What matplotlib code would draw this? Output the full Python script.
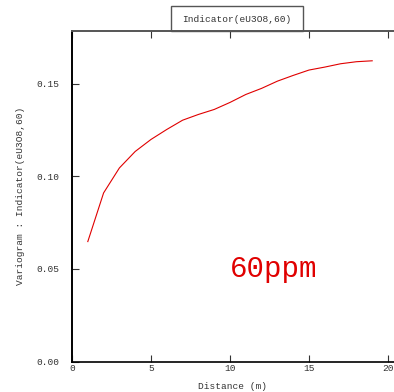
import matplotlib
matplotlib.use("Agg")
import matplotlib.pyplot as plt
from matplotlib.patches import Rectangle

# variogram values
lag = [1, 2, 3, 4, 5, 6, 7, 8, 9, 10, 11, 12, 13, 14, 15, 16, 17, 18, 19]
gamma = [0.0648, 0.0911, 0.1046, 0.1135, 0.1200, 0.1254, 0.1304, 0.1335, 0.1362,
         0.1400, 0.1443, 0.1476, 0.1515, 0.1546, 0.1575, 0.1591, 0.1609, 0.1620, 0.1625]
xticks = [0, 5, 10, 15, 20]
yticks = [0.00, 0.05, 0.10, 0.15]
title = "Indicator(eU3O8,60)"
note = "60ppm"

plt.rcParams['font.family'] = ['Liberation Mono', 'DejaVu Sans Mono']

fig = plt.figure(figsize=(3.94, 3.92), dpi=100)
ax = fig.add_axes([72/394, 30.5/392, 1 - 72/394, 330.5/392])

ax.plot(lag, gamma, color='#e00000', lw=0.8)
ax.set_xlim(0, 20.38)
ax.set_ylim(0, 0.1786)
ax.set_xticks(xticks)
ax.set_yticks(yticks)
ax.set_yticklabels(['%.2f' % v for v in yticks])
ax.tick_params(direction='in', length=5, width=0.8, labelsize=6.8, top=True, colors='#333333')
ax.tick_params(axis='y', pad=9)
ax.tick_params(axis='x', pad=2)
ax.spines['right'].set_visible(False)
ax.spines['left'].set_linewidth(1.4)
ax.spines['bottom'].set_linewidth(1.2)
ax.spines['top'].set_linewidth(1.4)
ax.spines['top'].set_color('#555555')

ax.set_xlabel('Distance (m)', fontsize=6.8, color='#333333', labelpad=6)
ax.set_ylabel('Variogram : Indicator(eU3O8,60)', fontsize=6.8, color='#333333', labelpad=8)

ax.text(12.78, 0.0457, note, color='#e00000', fontsize=21, ha='center', va='baseline')

# title box sitting on the top spine
fig.patches.append(Rectangle((171/394, 361/392), 132/394, 25/392, transform=fig.transFigure,
                             fill=False, edgecolor='#555555', lw=1.0))
fig.text(237/394, 373/392, title, fontsize=6.8, color='#333333', ha='center', va='center')

fig.savefig('out.png', dpi=100)
